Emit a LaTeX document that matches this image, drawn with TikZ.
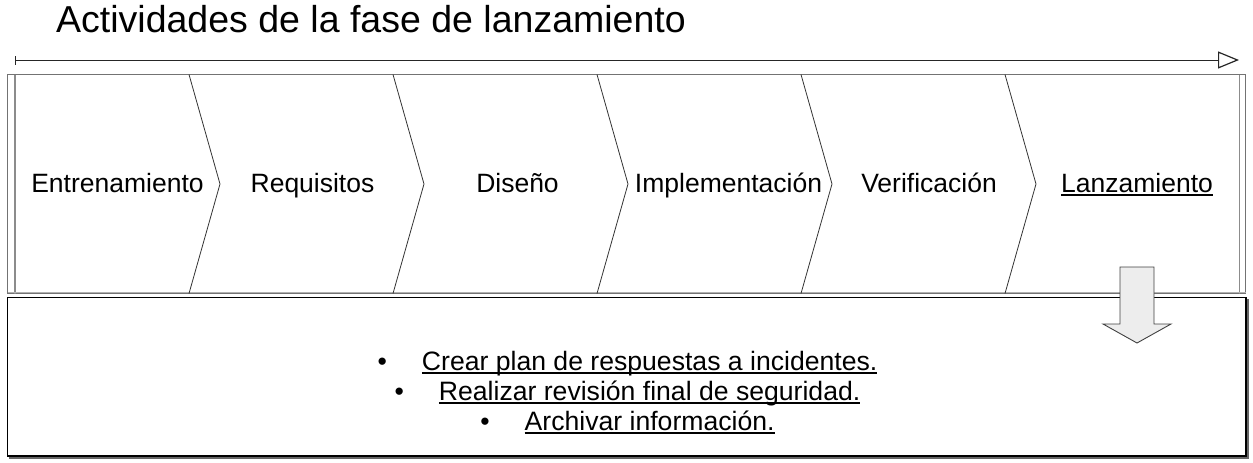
\documentclass[tikz,border=0pt]{standalone}
\usepackage{fontspec}
\setmainfont{Liberation Sans}
\usetikzlibrary{arrows.meta}
\newcommand\myul[1]{\setbox0\hbox{#1}\rlap{\rule[-3.8pt]{\wd0}{1.6pt}}\box0}
\tikzset{
  stagelabel/.style={anchor=base, inner sep=0pt, font=\fontsize{26.5}{30}\selectfont, text=black},
  bulletline/.style={anchor=base, inner sep=0pt, font=\fontsize{26.6}{30}\selectfont, text=black},
  chevline/.style={draw=black!80, line width=0.8pt},
  framegray/.style={draw=black!55, line width=0.8pt},
}
\begin{document}
\begin{tikzpicture}[x=1pt,y=-1pt]
\useasboundingbox (0,0) rectangle (1253,463);
% title
\node[anchor=base west, inner sep=0pt, font=\fontsize{37.5}{42}\selectfont] (title) at (56,32) {Actividades de la fase de lanzamiento};
% timeline
\coordinate (tlstart) at (15,60);
\coordinate (tlend) at (1239,60);
\draw[line width=1pt, black!85, {Bar[width=9pt,line width=1pt]}-{Triangle[open,length=21pt,width=17pt,line width=1.2pt]}] (tlstart) -- (tlend);
% top box
\draw[framegray] (7.5,74.5) rectangle (1245.5,293.5);
\draw[draw=black!45, line width=1.6pt] (15,74.5) -- (15,293.5);
\draw[draw=black!45, line width=1.6pt] (1239.5,74.5) -- (1239.5,293.5);
\draw[draw=black!30, line width=1pt] (7.5,292) -- (1245.5,292);
% chevrons
\foreach \xx in {189,393,597,801,1005}{
  \draw[chevline] (\xx,74.5) -- (\xx+31,184) -- (\xx,293.5);
}
% stage labels
\node[stagelabel] (s1) at (117.5,192) {Entrenamiento};
\node[stagelabel] (s2) at (312.5,192) {Requisitos};
\node[stagelabel] (s3) at (517.5,192) {Diseño};
\node[stagelabel] (s4) at (728.5,192) {Implementación};
\node[stagelabel] (s5) at (929,192) {Verificación};
\node[stagelabel] (s6) at (1137,192) {\myul{Lanzamiento}};
% bottom box
\draw[draw=black!60, line width=2pt] (1247.5,299) -- (1247.5,457.5) -- (9,457.5);
\draw[draw=black, line width=1.2pt] (7.5,297.5) rectangle (1246,456);
% bullet lines
\node[bulletline] (b1) at (627.5,370) {•\hspace{35pt}\myul{Crear plan de respuestas a incidentes.}};
\node[bulletline] (b2) at (627.5,400) {•\hspace{35pt}\myul{Realizar revisión final de seguridad.}};
\node[bulletline] (b3) at (627.5,430) {•\hspace{35pt}\myul{Archivar información.}};
% down arrow
\draw[draw=black!75, fill=black!7, line width=0.9pt] (1120,267) -- (1154,267) -- (1154,324) -- (1171,324) -- (1137,343) -- (1103,324) -- (1120,324) -- cycle;
\end{tikzpicture}
\end{document}
